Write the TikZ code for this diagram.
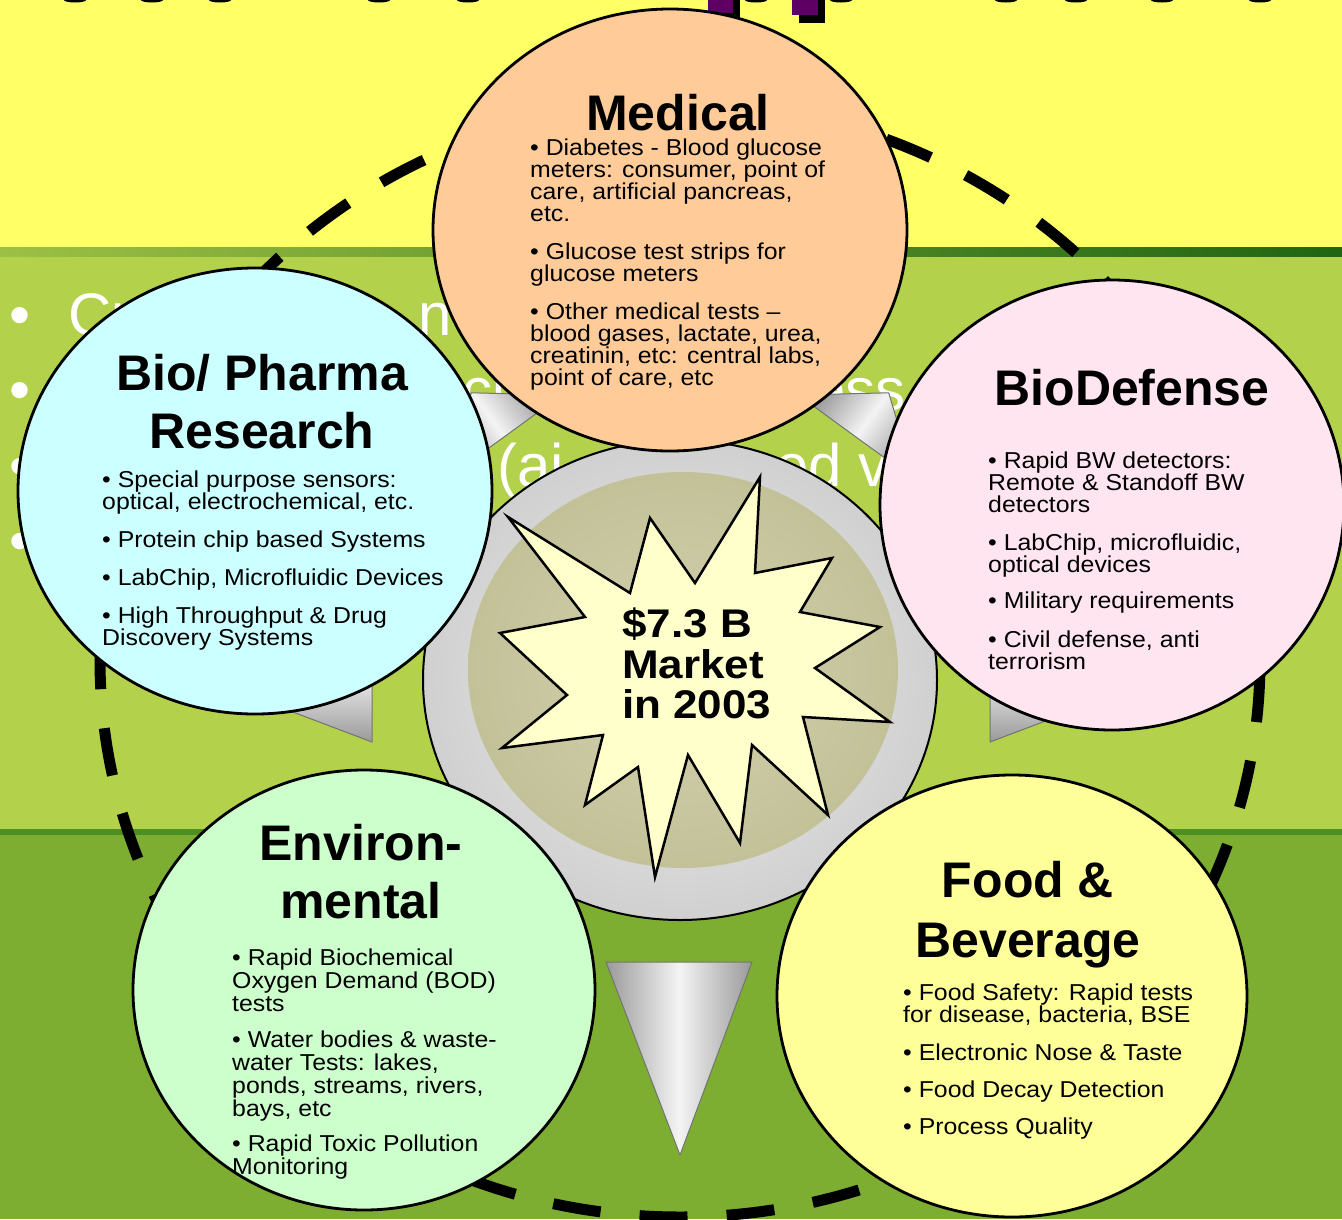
\documentclass[tikz,border=0pt]{standalone}
\usepackage{fontspec}
\setmainfont{Liberation Sans}
\newfontfamily\bodyfont[FakeStretch=1.08]{Liberation Sans}
\newfontfamily\ctrfont[FakeStretch=1.1]{Liberation Sans}
\usetikzlibrary{shapes.geometric}
\definecolor{bgyellow}{HTML}{FFFF66}
\definecolor{bglight}{HTML}{B3D14B}
\definecolor{bgdark}{HTML}{7DAE32}
\definecolor{stripL}{HTML}{9CC044}
\definecolor{stripR}{HTML}{1F6512}
\definecolor{stripB}{HTML}{4E8F22}
\definecolor{medfill}{HTML}{FFCC99}
\definecolor{biofill}{HTML}{CCFFFF}
\definecolor{deffill}{HTML}{FFE5EF}
\definecolor{envfill}{HTML}{CCFFCC}
\definecolor{foodfill}{HTML}{FFFF99}
\definecolor{starfill}{HTML}{FFFFCC}
\definecolor{khakiL}{HTML}{D3D2AF}
\definecolor{khakiD}{HTML}{C2C198}
\definecolor{ringin}{HTML}{EEEEEE}
\definecolor{ringout}{HTML}{D0D0D0}
\definecolor{trigray}{HTML}{9A9A9A}
\definecolor{triwhite}{HTML}{F4F4F4}
\definecolor{titlepurple}{HTML}{5E0063}
\tikzset{
  bubble/.style={shape=ellipse, draw=black, line width=2.8pt, inner sep=0pt},
  ttl/.style={font=\bfseries\fontsize{50}{58}\selectfont, inner sep=0pt, anchor=base},
  body/.style={font=\bodyfont\fontsize{23}{22}\selectfont, inner sep=0pt, anchor=north west, align=left},
  ctr/.style={font=\ctrfont\bfseries\fontsize{40}{40}\selectfont, inner sep=0pt, anchor=base west},
  bgtext/.style={text=white, font=\fontsize{60}{60}\selectfont, inner sep=0pt, anchor=base west},
  arrowtri/.style={draw=black!55, line width=1pt},
  ring/.style={line width=11pt, dash pattern=on 48pt off 39.15pt, dash phase=62.5pt},
}
\begin{document}
\begin{tikzpicture}[x=1pt,y=-1pt]
\useasboundingbox (0,0) rectangle (1342,1219);
\clip (0,0) rectangle (1342,1219);
% background bands
\fill[bgyellow] (0,0) rectangle (1342,248);
\shade[left color=stripL, right color=stripR] (0,247) rectangle (1342,258);
\fill[bglight] (0,257) rectangle (1342,830);
\fill[stripB] (0,829) rectangle (1342,836);
\fill[bgdark] (0,835) rectangle (1342,1219);
% remnants of the cut-off slide title
\foreach \tx in {75,152,220,379,468,756,841,1006,1076,1162,1260}
  \fill[black] (\tx,0) ellipse [x radius=11pt, y radius=2.5pt];
\fill[black] (715,0) rectangle (740,17);
\fill[titlepurple] (708,0) rectangle (733,13);
\fill[black] (799,0) rectangle (825,23);
\fill[titlepurple] (792,0) rectangle (818,15);
% white background bullet text (mostly hidden)
\node[bgtext] (bg1) at (9.5,335) {•};
\node[bgtext] (bg1a) at (68,335) {Cu};
\node[bgtext] (bg1b) at (418,335) {n};
\node[bgtext] (bg2) at (9.5,410) {•};
\node[bgtext] (bg2a) at (462,410) {cu};
\node[bgtext] (bg2b) at (812,410) {ess};
\node[bgtext] (bg3) at (9.5,486) {•};
\node[bgtext] (bg3a) at (497,486) {(ai};
\node[bgtext] (bg3b) at (775,486) {ed v};
\node[bgtext] (bg4) at (9.5,561) {•};
% dashed ring
\draw[ring] (680,660) ellipse [x radius=580pt, y radius=557pt];
% gray pointer triangles
\shadedraw[arrowtri, left color=trigray, right color=trigray, middle color=triwhite]
  (606,962) -- (752,962) -- (680,1155) -- cycle;
\shadedraw[arrowtri, top color=trigray, bottom color=trigray, middle color=triwhite]
  (372,598) -- (372,742) -- (182,670) -- cycle;
\shadedraw[arrowtri, top color=trigray, bottom color=trigray, middle color=triwhite]
  (990,598) -- (990,742) -- (1180,670) -- cycle;
\shadedraw[arrowtri, left color=trigray, right color=trigray, middle color=triwhite, shading angle=126]
  (561.8,395) -- (445.4,479.6) -- (471.3,392.8) -- cycle;
\shadedraw[arrowtri, left color=trigray, right color=trigray, middle color=triwhite, shading angle=54]
  (798.2,395) -- (914.6,479.6) -- (888.7,392.8) -- cycle;
% central disc
\shadedraw[draw=black, line width=2pt, inner color=ringin, outer color=ringout]
  (680,680) ellipse [x radius=257pt, y radius=240pt];
\shade[inner color=khakiL, outer color=khakiD] (683,670) ellipse [x radius=215pt, y radius=198pt];
\draw[fill=starfill, line width=2.5pt, line join=miter]
  (760,477) -- (755,573) -- (832,558) -- (800,612) -- (880,627) -- (815,668) --
  (890,722) -- (803,717) -- (828,815) -- (752,745) -- (740,843) -- (688,755) --
  (655,877) -- (638,767) -- (585,805) -- (603,735) -- (502,748) -- (567,695) --
  (500,633) -- (585,617) -- (508,517) -- (630,593) -- (650,518) -- (695,583) -- cycle;
\node[ctr] (m1) at (622,637) {\$7.3 B};
\node[ctr] (m2) at (622,678) {Market};
\node[ctr] (m3) at (622,718) {in 2003};
% bubbles
\node[bubble, fill=medfill, minimum width=474pt, minimum height=442pt] (med) at (670,230) {};
\node[bubble, fill=biofill, minimum width=474pt, minimum height=446pt] (bio) at (255,491) {};
\node[bubble, fill=deffill, minimum width=464pt, minimum height=450pt] (def) at (1112,505) {};
\node[bubble, fill=envfill, minimum width=462pt, minimum height=440pt] (env) at (364,990) {};
\node[bubble, fill=foodfill, minimum width=470pt, minimum height=442pt] (food) at (1012,996) {};
% titles
\node[ttl] (medT) at (678,130) {Medical};
\node[ttl] (bioT1) at (262,390) {Bio/ Pharma};
\node[ttl] (bioT2) at (262,448) {Research};
\node[ttl] (defT) at (1132,405) {BioDefense};
\node[ttl] (envT1) at (361,860) {Environ-};
\node[ttl] (envT2) at (361,918) {mental};
\node[ttl] (foodT1) at (1028,897) {Food \&};
\node[ttl] (foodT2) at (1028,957) {Beverage};
% bodies
\node[body] (medB) at (530,138.5) {• Diabetes - Blood glucose\\meters: consumer, point of\\care, artificial pancreas,\\etc.\\[16pt]
• Glucose test strips for\\glucose meters\\[16pt]
• Other medical tests –\\blood gases, lactate, urea,\\creatinin, etc: central labs,\\point of care, etc};
\node[body] (bioB) at (102,470.5) {• Special purpose sensors:\\optical, electrochemical, etc.\\[16pt]
• Protein chip based Systems\\[16pt]
• LabChip, Microfluidic Devices\\[16pt]
• High Throughput \& Drug\\Discovery Systems};
\node[body] (defB) at (988,451.5) {• Rapid BW detectors:\\Remote \& Standoff BW\\detectors\\[16pt]
• LabChip, microfluidic,\\optical devices\\[14pt]
• Military requirements\\[17pt]
• Civil defense, anti\\terrorism};
\node[body, font=\bodyfont\fontsize{23}{23}\selectfont] (envB) at (232,948.5) {• Rapid Biochemical\\Oxygen Demand (BOD)\\tests\\[13pt]
• Water bodies \& waste-\\water Tests: lakes,\\ponds, streams, rivers,\\bays, etc\\[12pt]
• Rapid Toxic Pollution\\Monitoring};
\node[body] (foodB) at (903,983.5) {• Food Safety: Rapid tests\\for disease, bacteria, BSE\\[16pt]
• Electronic Nose \& Taste\\[15pt]
• Food Decay Detection\\[15pt]
• Process Quality};
\end{tikzpicture}
\end{document}
